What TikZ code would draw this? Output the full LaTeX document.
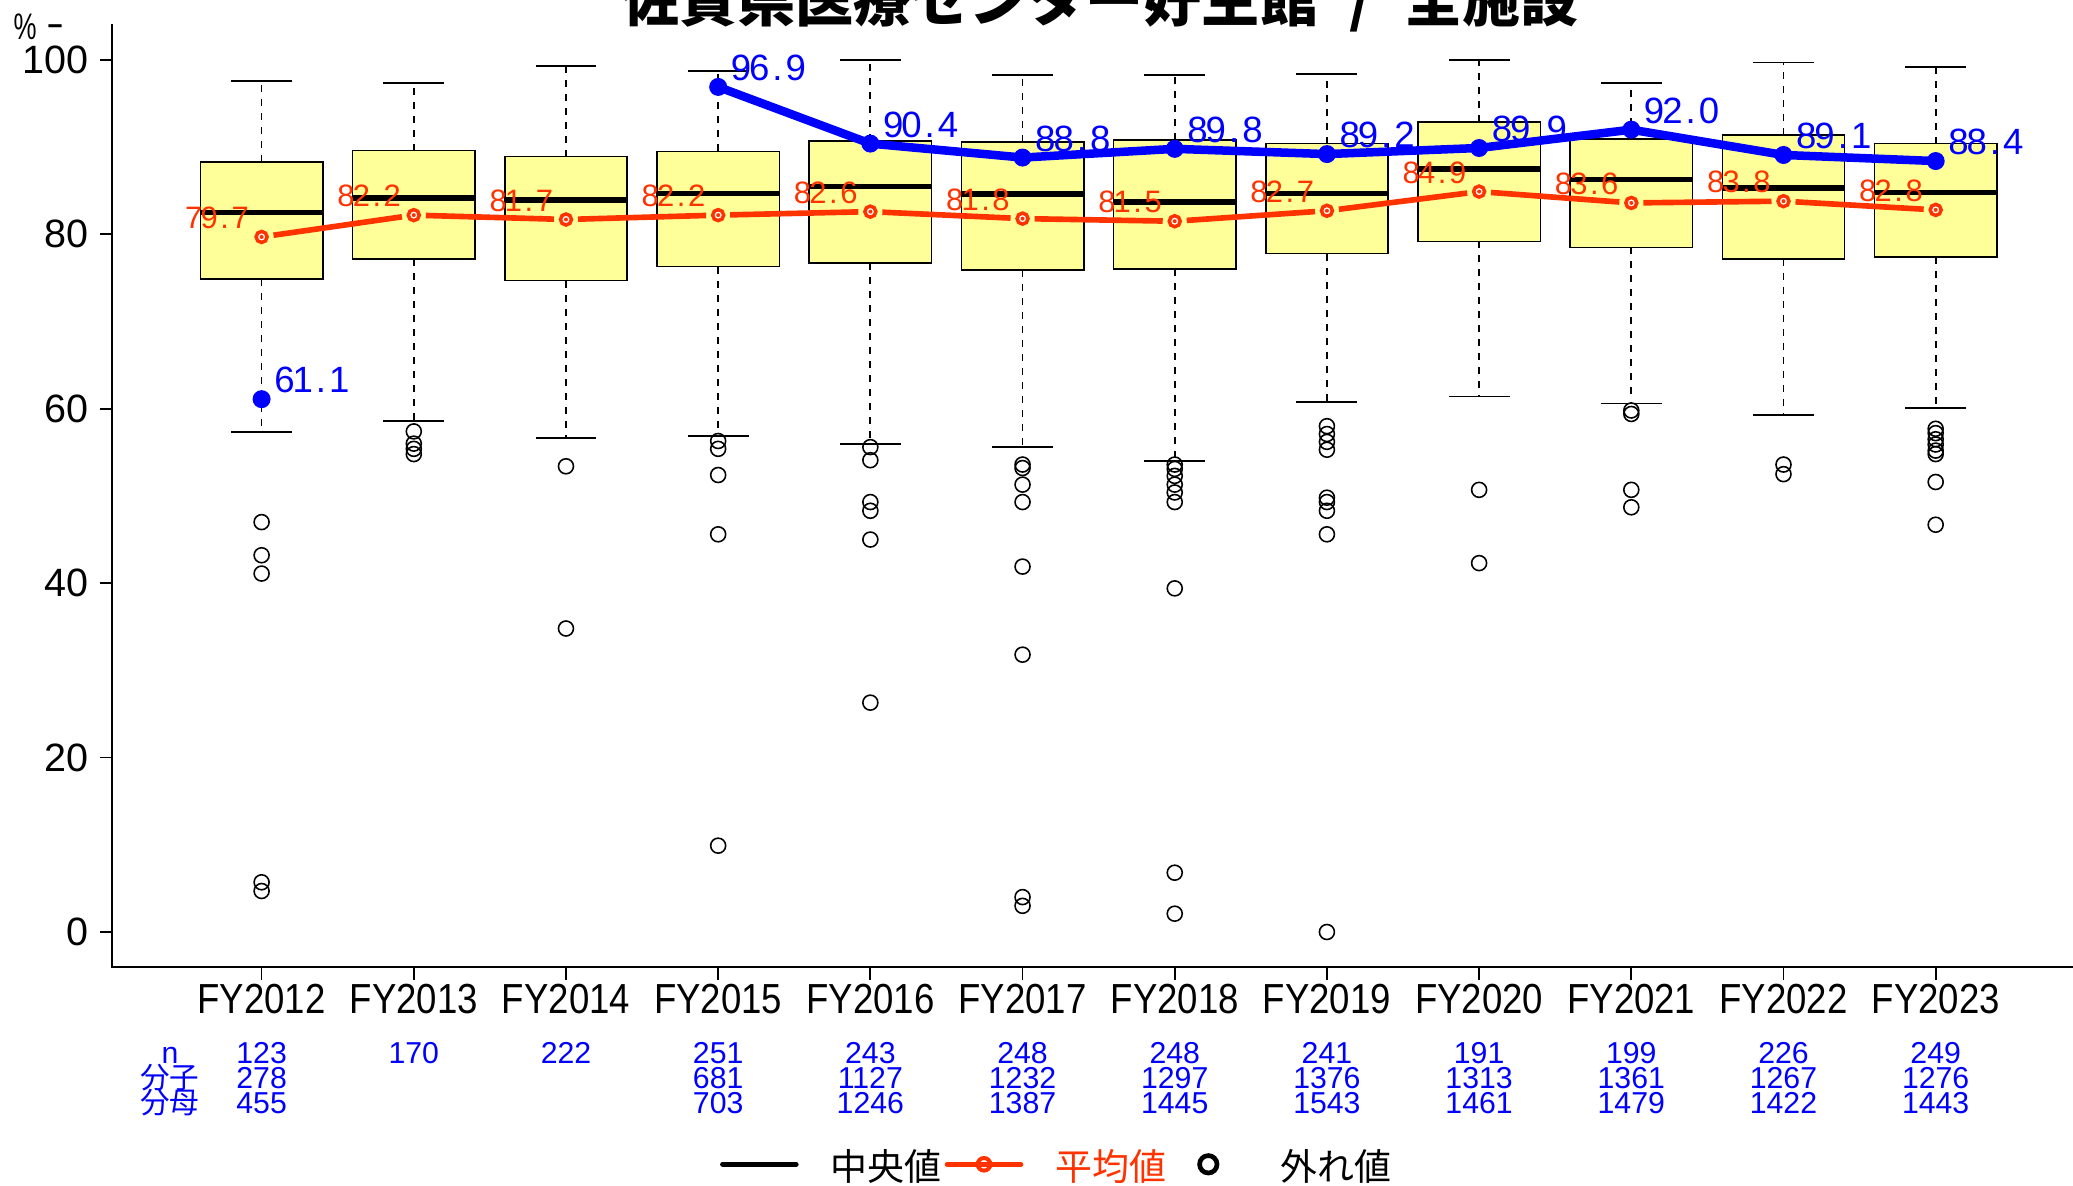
\documentclass[tikz,border=0pt]{standalone}
\usepackage{fontspec}
\setmainfont{Liberation Sans}
\newfontfamily\jpfont{Noto Sans CJK JP}

\definecolor{boxyellow}{RGB}{255,255,153}
\definecolor{meanred}{RGB}{255,51,0}
\definecolor{topblue}{RGB}{0,0,255}

% digits set at a fixed pitch
\newcommand\mv[1]{\edef\mvtmp{#1}\expandafter\mvstep\mvtmp\relax}
\def\mvstep#1{\ifx\relax#1\else\makebox[0.5em]{#1}\expandafter\mvstep\fi}

\tikzset{
  boxst/.style={draw=black, line width=0.45pt, fill=boxyellow},
  medst/.style={line width=1.6pt},
  whisk/.style={line width=0.5pt, dash pattern=on 0.07cm off 0.07cm},
  capst/.style={line width=0.55pt},
  outl/.style={line width=0.45pt},
  axisline/.style={line width=0.5pt},
  meanline/.style={meanred, line width=1.6pt, shorten <=0.12cm, shorten >=0.12cm},
  topline/.style={topblue, line width=2.42pt, line join=round},
  meanlab/.style={meanred, anchor=east, inner sep=0pt, font=\fontsize{8.8pt}{10pt}\selectfont, xshift=-0.13cm, yshift=0.19cm},
  toplab/.style={topblue, anchor=west, inner sep=0pt, font=\fontsize{10.4pt}{12pt}\selectfont, xshift=0.13cm, yshift=0.19cm},
  fylab/.style={anchor=base, inner sep=0pt, font=\fontsize{11.95pt}{14pt}\selectfont},
  cntlab/.style={topblue, anchor=base, inner sep=0pt, font=\fontsize{8.6pt}{10pt}\selectfont},
  leglab/.style={anchor=base west, inner sep=0pt, font=\fontsize{10.5pt}{12pt}\selectfont\jpfont},
}

\begin{document}
\begin{tikzpicture}[x=0.01cm, y=0.01cm]
\useasboundingbox (0,0) rectangle (2073,1185);

% title and unit
\node[anchor=base, inner sep=0pt, font=\fontsize{16.5pt}{19pt}\selectfont\jpfont\bfseries] (title) at (1100,1163.5)
  {佐賀県医療センター好生館\hspace{0.55em}/\hspace{0.55em}全施設};
\node[inner sep=0pt, font=\fontsize{10.5pt}{12pt}\selectfont] (pct) at (25,1158) {\scalebox{0.7}[1]{\%}};
\node[inner sep=0pt, font=\fontsize{11pt}{13pt}\selectfont] (dash) at (56,1154) {\scalebox{1.4}[1]{-}};

\begin{scope}[shift={(261.6,253)}, x=1.521cm, y=0.08716cm]

% axes
\draw[axisline] (-0.981,104.06) -- (-0.981,-4.016) -- (11.92,-4.016);
\foreach \val in {0,20,...,100} {
  \draw[axisline] (-0.981,\val) -- ++(-0.12cm,0)
    node[anchor=east, inner sep=0pt, xshift=-0.11cm, font=\fontsize{11.24pt}{13pt}\selectfont] (yt\val) {\val};
}
\foreach \i/\y in {0/2012,1/2013,2/2014,3/2015,4/2016,5/2017,6/2018,7/2019,8/2020,9/2021,10/2022,11/2023} {
  \draw[axisline] (\i,-4.016) -- ++(0,-0.13cm);
  \node[fylab] (fy\i) at (\i,-9.33) {\scalebox{0.87}[1]{FY\y}};
}

% boxes
\foreach \i/\lo/\qa/\md/\qc/\hi in {
  0/57.3/74.9/82.5/88.3/97.6, 1/58.6/77.2/84.2/89.6/97.4,
  2/56.6/74.7/83.9/88.9/99.3, 3/56.9/76.3/84.7/89.5/98.7,
  4/56.0/76.7/85.5/90.7/100.0, 5/55.6/75.9/84.6/90.6/98.3,
  6/54.0/76.0/83.7/90.8/98.3, 7/60.8/77.8/84.7/90.4/98.4,
  8/61.4/79.2/87.5/92.9/100.0, 9/60.6/78.5/86.3/90.9/97.4,
  10/59.3/77.2/85.3/91.4/99.7, 11/60.1/77.4/84.8/90.4/99.2} {
  \draw[whisk] (\i,\qc) -- (\i,\hi);
  \draw[whisk] (\i,\qa) -- (\i,\lo);
  \draw[capst] (\i-0.2,\hi) -- (\i+0.2,\hi);
  \draw[capst] (\i-0.2,\lo) -- (\i+0.2,\lo);
  \draw[boxst] (\i-0.402,\qa) rectangle (\i+0.402,\qc);
  \draw[medst] (\i-0.402,\md) -- (\i+0.402,\md);
}

% outliers
\foreach \i/\vals in {
  0/{47.0,43.2,41.1,5.7,4.7}, 1/{57.4,56.0,55.4,54.8}, 2/{53.4,34.8},
  3/{56.3,55.4,52.4,45.6,9.9}, 4/{55.6,54.1,49.3,48.3,45.0,26.3},
  5/{53.6,53.2,51.3,49.3,41.9,31.8,4.0,3.0},
  6/{53.6,53.1,52.3,51.3,50.4,49.3,39.4,6.8,2.1},
  7/{58.0,57.1,56.2,55.3,49.8,49.3,48.3,45.6,0.0}, 8/{50.7,42.3},
  9/{59.8,59.4,50.7,48.7}, 10/{53.6,52.5},
  11/{57.7,57.2,56.5,55.9,55.2,54.8,51.6,46.7}} {
  \foreach \val in \vals {
    \draw[outl] (\i,\val) circle[radius=0.075cm];
  }
}

% mean
\foreach \i/\m in {0/79.7,1/82.2,2/81.7,3/82.2,4/82.6,5/81.8,6/81.5,7/82.7,8/84.9,9/83.6,10/83.8,11/82.8}
  \coordinate (m\i) at (\i,\m);
\foreach \i [evaluate=\i as \j using int(\i+1)] in {0,...,10}
  \draw[meanline] (m\i) -- (m\j);
\foreach \i/\m in {0/79.7,1/82.2,2/81.7,3/82.2,4/82.6,5/81.8,6/81.5,7/82.7,8/84.9,9/83.6,10/83.8,11/82.8} {
  \draw[meanred, line width=0.035cm, fill=white] (m\i) circle[radius=0.055cm];
  \fill[meanred] (m\i) circle[radius=0.02cm];
  \node[meanlab] (ml\i) at (m\i) {\mv{\m}};
}

% top value
\foreach \i/\t in {0/61.1,3/96.9,4/90.4,5/88.8,6/89.8,7/89.2,8/89.9,9/92.0,10/89.1,11/88.4}
  \coordinate (b\i) at (\i,\t);
\draw[topline] (b3) \foreach \j in {4,...,11} { -- (b\j) };
\foreach \i/\t in {0/61.1,3/96.9,4/90.4,5/88.8,6/89.8,7/89.2,8/89.9,9/92.0,10/89.1,11/88.4} {
  \fill[topblue] (b\i) circle[radius=0.09cm];
  \node[toplab] (bl\i) at (b\i) {\mv{\t}};
}

% counts under the axis
\node[cntlab, font=\fontsize{8.6pt}{10pt}\selectfont] (rown) at (-0.602,-15.07) {n};
\node[cntlab, font=\fontsize{8.4pt}{10pt}\selectfont\jpfont] (rowa) at (-0.602,-17.94) {分子};
\node[cntlab, font=\fontsize{8.4pt}{10pt}\selectfont\jpfont] (rowb) at (-0.602,-20.80) {分母};
\node[cntlab] (c1) at (1,-15.07) {170};
\node[cntlab] (c2) at (2,-15.07) {222};
\foreach \i/\cnt/\num/\den in {0/123/278/455, 3/251/681/703, 4/243/1127/1246, 5/248/1232/1387,
  6/248/1297/1445, 7/241/1376/1543, 8/191/1313/1461, 9/199/1361/1479,
  10/226/1267/1422, 11/249/1276/1443} {
  \node[cntlab] (c\i) at (\i,-15.07) {\cnt};
  \node[cntlab] (a\i) at (\i,-17.94) {\num};
  \node[cntlab] (d\i) at (\i,-20.80) {\den};
}
\end{scope}

% legend
\coordinate (lgmed1) at (722.7,20.7);
\coordinate (lgmed2) at (796,20.7);
\draw[line width=1.5pt, line cap=round] (lgmed1) -- (lgmed2);
\node[leglab] (lgmedt) at (830,4.5) {中央値};
\coordinate (lgmean1) at (947.3,20.7);
\coordinate (lgmean2) at (1020.7,20.7);
\coordinate (lgmeanc) at (984,20.7);
\draw[meanred, line width=0.04cm, fill=white] (lgmeanc) circle[radius=0.063cm];
\draw[meanred, line width=1.5pt, line cap=round] (lgmean1) -- (lgmean2);
\node[leglab, meanred] (lgmeant) at (1055,4.5) {平均値};
\coordinate (lgout) at (1208.3,20.7);
\draw[line width=0.047cm] (lgout) circle[radius=0.087cm];
\node[leglab] (lgoutt) at (1280,4.5) {外れ値};

\end{tikzpicture}
\end{document}
